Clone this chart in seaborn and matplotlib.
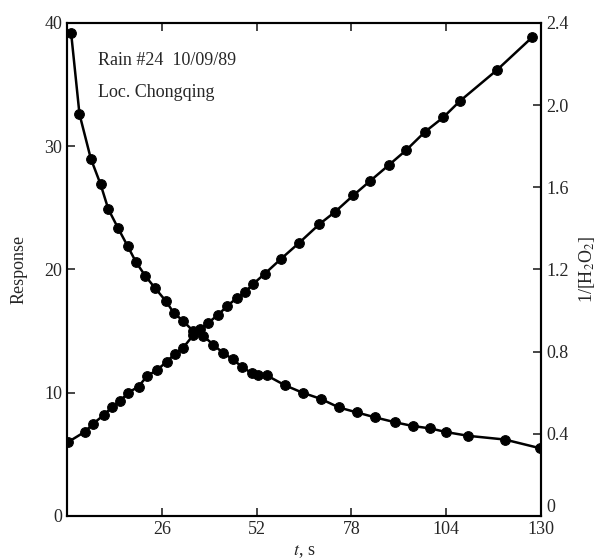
import matplotlib
matplotlib.use("Agg")
import matplotlib.pyplot as plt
import seaborn as sns

# Response (left axis) decay curve
t_resp = [1.1, 3.4, 6.5, 9.2, 11.3, 13.9, 16.6, 18.9, 21.4, 24.1, 27.2, 29.2, 31.9,
          34.6, 37.4, 40.1, 42.9, 45.6, 47.9, 50.6, 52.5, 54.8, 59.8, 64.6, 69.6,
          74.6, 79.5, 84.5, 90.0, 94.8, 99.7, 104.1, 110.1, 120.1, 129.7]
response = [39.2, 32.6, 29.0, 26.9, 24.9, 23.4, 21.9, 20.6, 19.5, 18.5, 17.4, 16.5, 15.8,
            15.0, 14.6, 13.9, 13.2, 12.7, 12.1, 11.6, 11.4, 11.4, 10.6, 10.0, 9.5,
            8.8, 8.4, 8.0, 7.6, 7.3, 7.1, 6.8, 6.5, 6.2, 5.5]

# 1/[H2O2] (right axis) rising line
t_inv = [0.3, 4.9, 7.2, 10.0, 12.3, 14.5, 16.8, 19.6, 21.9, 24.6, 27.3, 29.6, 31.9,
         34.6, 36.5, 38.7, 41.5, 43.8, 46.5, 48.8, 51.1, 54.3, 58.6, 63.7, 69.2,
         73.5, 78.5, 83.1, 88.4, 93.0, 98.2, 103.2, 107.8, 117.9, 127.6]
inv_h2o2 = [0.36, 0.41, 0.45, 0.49, 0.53, 0.56, 0.60, 0.63, 0.68, 0.71, 0.75, 0.79, 0.82,
            0.88, 0.91, 0.94, 0.98, 1.02, 1.06, 1.09, 1.13, 1.18, 1.25, 1.33, 1.42,
            1.48, 1.56, 1.63, 1.71, 1.78, 1.87, 1.94, 2.02, 2.17, 2.33]

x_ticks = [26, 52, 78, 104, 130]
left_ticks = [0, 10, 20, 30, 40]
right_ticks = [0, 0.4, 0.8, 1.2, 1.6, 2.0, 2.4]
right_labels = ["0", "0.4", "0.8", "1.2", "1.6", "2.0", "2.4"]

sns.set_style("ticks")
plt.rcParams["font.family"] = ["Liberation Serif", "DejaVu Serif"]
plt.rcParams["mathtext.fontset"] = "stix"

fig = plt.figure(figsize=(5.99, 5.59), dpi=100)
ax = fig.add_axes([0.112, 0.077, 0.791, 0.882])
ax2 = ax.twinx()

sns.lineplot(x=t_resp, y=response, ax=ax, color="black", marker="o",
             markersize=7, linewidth=1.8, markeredgecolor="black")
sns.lineplot(x=t_inv, y=inv_h2o2, ax=ax2, color="black", marker="o",
             markersize=7, linewidth=1.8, markeredgecolor="black")

ax.set_xlim(0, 130)
ax.set_ylim(0, 40)
ax2.set_ylim(0, 2.4)
ax.set_xticks(x_ticks)
ax.set_yticks(left_ticks)
ax2.set_yticks(right_ticks)
ax2.set_yticklabels(right_labels)

ax.tick_params(axis="both", direction="in", labelsize=13, length=6, width=1.2,
               top=True)
ax2.tick_params(axis="y", direction="in", labelsize=13, length=6, width=1.2, pad=4)
# lift the right-hand "0" so it clears the "130" below it
ax2.get_yticklabels()[0].set_va("bottom")

for a in (ax, ax2):
    for s in a.spines.values():
        s.set_visible(True)
        s.set_linewidth(1.5)
        s.set_color("black")

ax.set_ylabel("Response", fontsize=13, labelpad=12)
ax2.set_ylabel("1/[H$_2$O$_2$]", fontsize=13, labelpad=6)
ax.set_xlabel("$t$, s", fontsize=13, labelpad=4)

ax.text(8.5, 36.6, "Rain #24  10/09/89", fontsize=13)
ax.text(8.5, 34.0, "Loc. Chongqing", fontsize=13)

fig.savefig("out.png", dpi=100)
